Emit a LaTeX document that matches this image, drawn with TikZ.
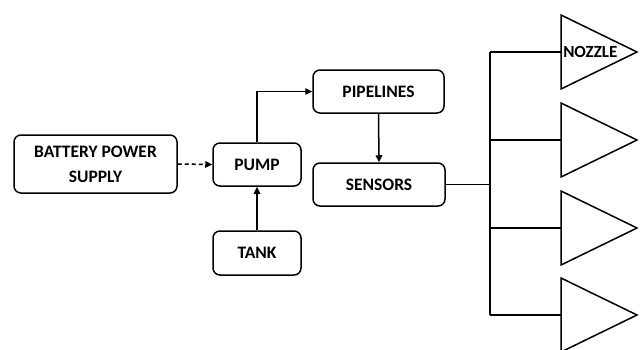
\documentclass[tikz,border=0pt]{standalone}
\usepackage{fontspec}
\setmainfont{Carlito}
\usetikzlibrary{arrows.meta}
\begin{document}
\begin{tikzpicture}[x=1pt,y=-1pt, line width=1.5pt,
  box/.style={draw, rounded corners=7pt, font=\bfseries\fontsize{17.5}{25}\selectfont, inner sep=0pt, align=center},
  arr/.style={-{Triangle[length=7pt,width=6.5pt]}},
  noz/.style={draw, line join=miter}]
\useasboundingbox (0,0) rectangle (640,349);
\node[box, minimum width=163pt, minimum height=58pt] (bat) at (95.5,164) {BATTERY POWER\\SUPPLY};
\node[box, minimum width=88pt, minimum height=43pt] (pump) at (257,164.5) {PUMP};
\node[box, minimum width=88pt, minimum height=44pt] (tank) at (257,253) {TANK};
\node[box, minimum width=131pt, minimum height=43pt] (pipe) at (378.5,91.5) {PIPELINES};
\node[box, minimum width=132pt, minimum height=43pt] (sens) at (379,184.5) {SENSORS};
\draw[arr, dash pattern=on 4pt off 3pt] (bat.east) -- (pump.west);
\draw[arr] (tank.north) -- (pump.south);
\draw[arr] (pump.north) |- (pipe.west);
\draw[arr] (pipe.south) -- (sens.north);
\coordinate (bus) at (490,184.5);
\coordinate (bt) at (490,52);
\coordinate (bb) at (490,315);
\coordinate (n1) at (561,52);
\coordinate (n2) at (561,140);
\coordinate (n3) at (561,228);
\coordinate (n4) at (561,315);
\draw (sens.east) -- (bus);
\draw (bt) -- (bb);
\draw (bt) -- (n1);
\draw (bus |- n2) -- (n2);
\draw (bus |- n3) -- (n3);
\draw (bb) -- (n4);
\foreach \n in {n1,n2,n3,n4}{
  \draw[noz] ([yshift=-37pt]\n) -- ([yshift=37pt]\n) -- ([xshift=76pt]\n) -- cycle;
}
\node[font=\bfseries\fontsize{17}{20}\selectfont, inner sep=0pt, anchor=west] (nozzle) at (562.5,52) {NOZZLE};
\end{tikzpicture}
\end{document}
